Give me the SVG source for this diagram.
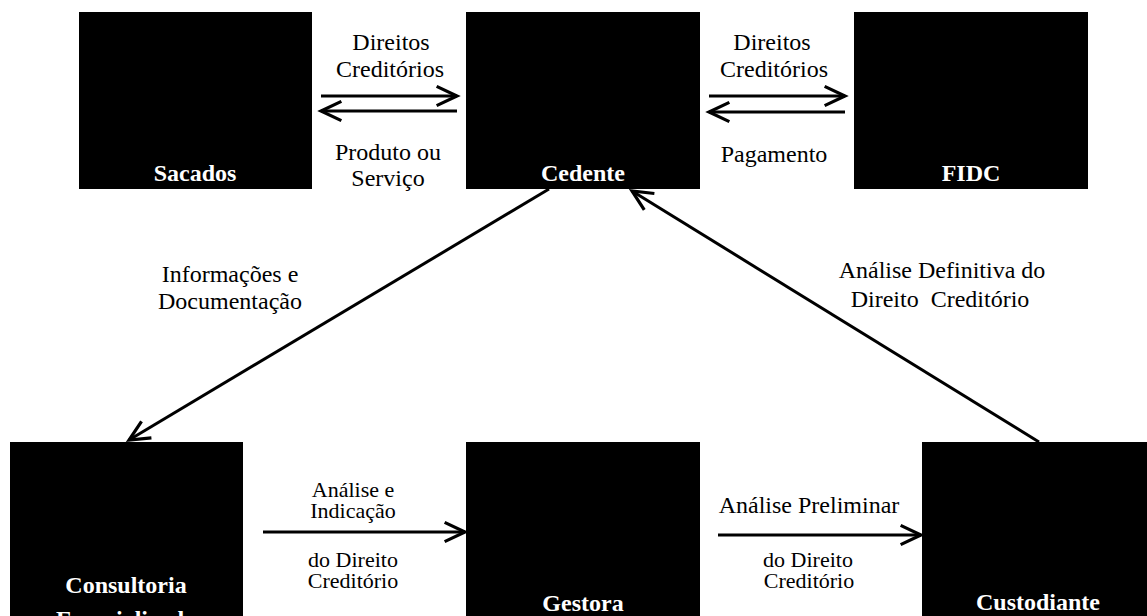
<svg xmlns="http://www.w3.org/2000/svg" width="1147" height="616" viewBox="0 0 1147 616">
<style>
.box{fill:#000}
.nl{font-family:"Liberation Serif","Times New Roman",serif;font-size:24px;font-weight:bold;fill:#fff;text-anchor:middle}
.el{font-family:"Liberation Serif","Times New Roman",serif;font-size:24px;fill:#000;text-anchor:middle}
.sl{font-family:"Liberation Serif","Times New Roman",serif;font-size:22px;fill:#000;text-anchor:middle}
.cn{stroke:#000;stroke-width:3;fill:none;marker-end:url(#ah)}
</style>
<defs>
<marker id="ah" markerUnits="userSpaceOnUse" markerWidth="30" markerHeight="30" viewBox="-24 -12 28 24" refX="0" refY="0" orient="auto" overflow="visible">
<path d="M-19,-9 L0,0 L-19,9" fill="none" stroke="#000" stroke-width="3"/>
</marker>
</defs>
<rect width="1147" height="616" fill="#fff"/>
<g id="sacados"><rect class="box" x="79" y="12" width="233" height="177"/><text class="nl" x="195" y="181">Sacados</text></g>
<g id="cedente"><rect class="box" x="466" y="12" width="234" height="177"/><text class="nl" x="583" y="181">Cedente</text></g>
<g id="fidc"><rect class="box" x="854" y="12" width="234" height="177"/><text class="nl" x="971" y="181">FIDC</text></g>
<g id="consultoria"><rect class="box" x="10" y="442" width="233" height="180"/><text class="nl" x="126" y="593">Consultoria</text><text class="nl" x="126" y="627">Especializada</text></g>
<g id="gestora"><rect class="box" x="466" y="442" width="234" height="180"/><text class="nl" x="583" y="611">Gestora</text></g>
<g id="custodiante"><rect class="box" x="922" y="442" width="234" height="180"/><text class="nl" x="1038" y="610">Custodiante</text></g>
<g id="connectors">
<line class="cn" x1="321" y1="96" x2="457" y2="96"/>
<line class="cn" x1="457" y1="111" x2="321" y2="111"/>
<line class="cn" x1="709" y1="96" x2="845" y2="96"/>
<line class="cn" x1="845" y1="112" x2="709" y2="112"/>
<line class="cn" x1="549" y1="189" x2="129" y2="440"/>
<line class="cn" x1="1039" y1="442" x2="632" y2="191"/>
<line class="cn" x1="263" y1="532" x2="465" y2="532"/>
<line class="cn" x1="718" y1="535" x2="921" y2="535"/>
<text class="el" x="391" y="50">Direitos</text>
<text class="el" x="390" y="77">Creditórios</text>
<text class="el" x="388" y="160">Produto ou</text>
<text class="el" x="388" y="186">Serviço</text>
<text class="el" x="772" y="50">Direitos</text>
<text class="el" x="774" y="77">Creditórios</text>
<text class="el" x="774" y="162">Pagamento</text>
<text class="el" x="230" y="282">Informações e</text>
<text class="el" x="230" y="309">Documentação</text>
<text class="el" x="942" y="278">Análise Definitiva do</text>
<text class="el" x="940" y="307" xml:space="preserve">Direito  Creditório</text>
<text class="sl" x="353" y="497">Análise e</text>
<text class="sl" x="353" y="518">Indicação</text>
<text class="sl" x="353" y="567">do Direito</text>
<text class="sl" x="353" y="588">Creditório</text>
<text class="el" x="809" y="513">Análise Preliminar</text>
<text class="sl" x="808" y="567">do Direito</text>
<text class="sl" x="809" y="588">Creditório</text>
</g>
</svg>
